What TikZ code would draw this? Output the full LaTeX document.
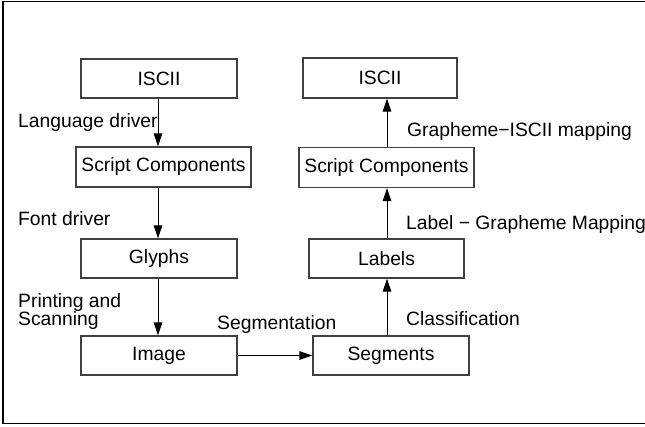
\documentclass[tikz,border=0pt]{standalone}
\usepackage{fontspec}
\setmainfont{Liberation Sans}
\usetikzlibrary{arrows.meta}
\begin{document}
\begin{tikzpicture}[x=1pt,y=-1pt,
  box/.style={draw=black!75, line width=1.2pt, rectangle, inner sep=0pt,
    font=\fontsize{19.3}{19}\selectfont},
  arr/.style={draw=black, line width=1pt, -{Triangle[length=13pt,width=8.5pt]}},
  lbl/.style={anchor=base west, inner sep=0pt, font=\fontsize{19.3}{19}\selectfont}]
\useasboundingbox (0,0) rectangle (645,426);
\draw[line width=1.3pt] (3,1.5) rectangle (700,423.5);
% boxes
\node[box, minimum width=156pt, minimum height=39pt] (iscL) at (159,78.5) {ISCII};
\node[box, minimum width=175pt, minimum height=40pt] (scL) at (163.5,167) {Script Components};
\node[box, minimum width=156pt, minimum height=39pt] (gly) at (159,258.5) {Glyphs};
\node[box, minimum width=156pt, minimum height=39pt] (img) at (159,355.5) {Image};
\node[box, minimum width=156pt, minimum height=39pt] (seg) at (391,355.5) {Segments};
\node[box, minimum width=155pt, minimum height=39pt] (lab) at (386.5,258.5) {Labels};
\node[box, minimum width=175pt, minimum height=40pt] (scR) at (386.5,167.5) {Script Components};
\node[box, minimum width=154pt, minimum height=40pt] (iscR) at (380,78) {ISCII};
% column axes
\coordinate (cL) at (158,0);
\coordinate (cR) at (387,0);
% connectors
\draw[arr] (iscL.south -| cL) -- (scL.north -| cL);
\draw[arr] (scL.south -| cL) -- (gly.north -| cL);
\draw[arr] (gly.south -| cL) -- (img.north -| cL);
\draw[arr] (img.east) -- (seg.west);
\draw[arr] (seg.north -| cR) -- (lab.south -| cR);
\draw[arr] (lab.north -| cR) -- (scR.south -| cR);
\draw[arr] (scR.north -| cR) -- (iscR.south -| cR);
% labels
\node[lbl] (t1) at (18,127) {Language driver};
\node[lbl] (t2) at (18,225) {Font driver};
\node[lbl] (t3) at (18,307) {Printing and};
\node[lbl] (t4) at (18,325) {Scanning};
\node[lbl] (t5) at (217,329) {Segmentation};
\node[lbl] (t6) at (406,325) {Classification};
\node[lbl] (t7) at (406,229) {Label − Grapheme Mapping};
\node[lbl] (t8) at (407,136) {Grapheme−ISCII mapping};
\end{tikzpicture}
\end{document}
